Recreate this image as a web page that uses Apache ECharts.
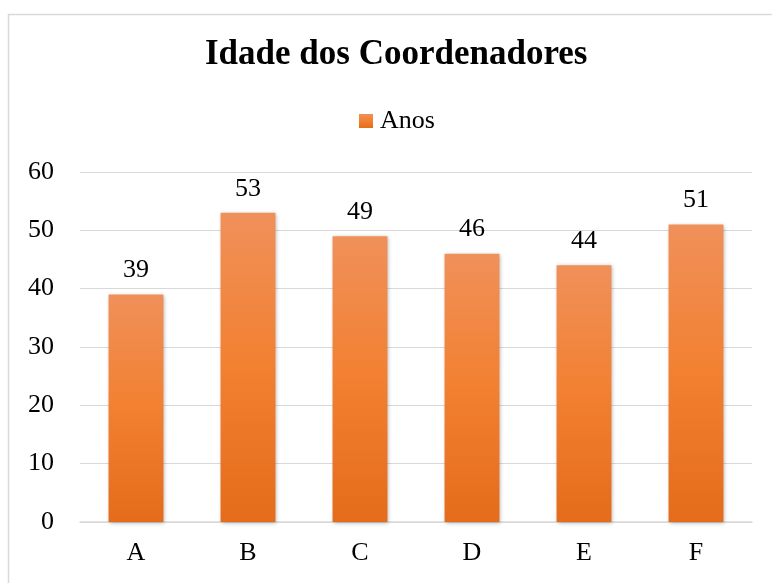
<!DOCTYPE html>
<html>
<head>
<meta charset="utf-8">
<script src="https://cdn.jsdelivr.net/npm/echarts@6/dist/echarts.min.js"></script>
<style>html,body{margin:0;padding:0;background:#fff;}#c{width:772px;height:583px;}</style>
</head>
<body>
<div id="c"></div>
<script>
const categories = ['A', 'B', 'C', 'D', 'E', 'F'];
const anos = [39, 53, 49, 46, 44, 51];
const yTicks = [0, 10, 20, 30, 40, 50, 60];

const chart = echarts.init(document.getElementById('c'));
const serif = '"Liberation Serif", "Times New Roman", serif';
chart.setOption({
  animation: false,
  backgroundColor: '#fff',
  graphic: [{
    type: 'rect', left: 6, top: 12, shape: { width: 820, height: 620 },
    style: { fill: 'none', stroke: '#d9d9d9', lineWidth: 1.5 }, silent: true
  }],
  title: {
    text: 'Idade dos Coordenadores',
    left: 200, top: 32,
    textStyle: { fontFamily: serif, fontSize: 35, fontWeight: 'bold', color: '#000' }
  },
  legend: {
    data: ['Anos'], top: 103, left: 354,
    itemWidth: 14, itemHeight: 14, itemGap: 5,
    icon: 'rect',
    textStyle: { fontFamily: serif, fontSize: 26, color: '#000', padding: [0, 0, 0, 2] }
  },
  grid: { left: 80, right: 20, top: 172, bottom: 61, containLabel: false },
  xAxis: {
    type: 'category', data: categories,
    axisLine: { lineStyle: { color: '#d9d9d9', width: 1.5 } },
    axisTick: { show: false },
    axisLabel: { fontFamily: serif, fontSize: 26, color: '#000', margin: 18 }
  },
  yAxis: {
    type: 'value', min: yTicks[0], max: yTicks[yTicks.length - 1], interval: 10,
    axisLine: { show: false }, axisTick: { show: false },
    splitLine: { lineStyle: { color: '#d9d9d9', width: 1 } },
    axisLabel: { fontFamily: serif, fontSize: 26, color: '#000', margin: 26 }
  },
  series: [{
    name: 'Anos', type: 'bar', data: anos, barWidth: '49%',
    itemStyle: {
      color: new echarts.graphic.LinearGradient(0, 0, 0, 1, [
        { offset: 0, color: '#F0905A' },
        { offset: 0.5, color: '#F28030' },
        { offset: 1, color: '#E46C1A' }
      ]),
      shadowColor: 'rgba(0,0,0,0.3)', shadowBlur: 4, shadowOffsetX: 1, shadowOffsetY: 1
    },
    label: {
      show: true, position: 'top', distance: 11,
      fontFamily: serif, fontSize: 26, color: '#000'
    }
  }],
  color: ['#F07F30']
});
</script>
</body>
</html>
